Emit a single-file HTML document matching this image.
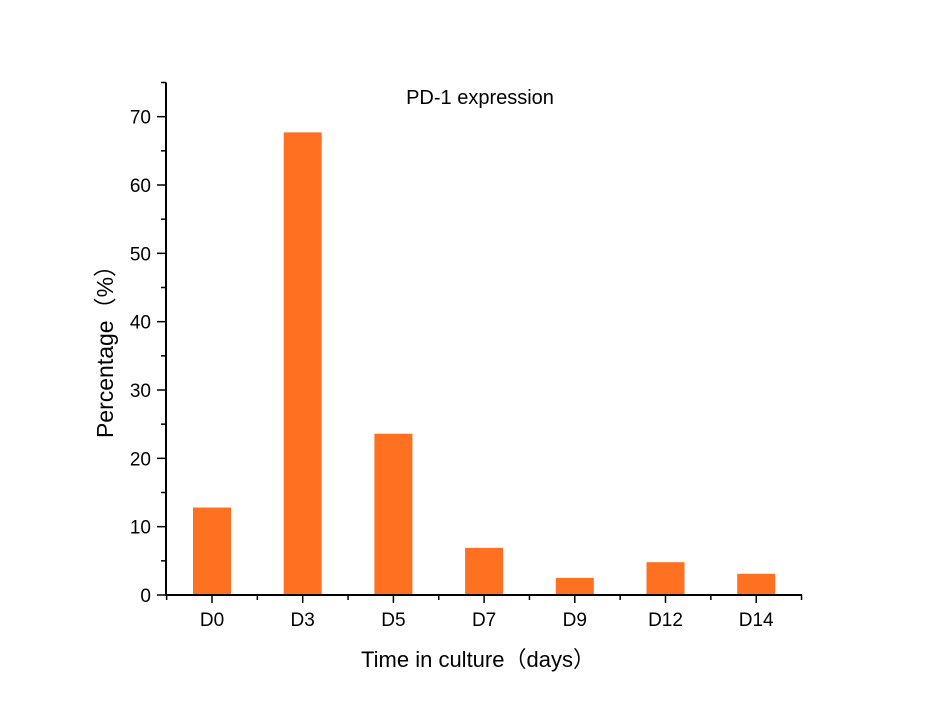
<!DOCTYPE html>
<html><head><meta charset="utf-8"><style>
body{margin:0;background:#fff;}
svg{display:block;font-family:"Liberation Sans","Noto Sans CJK SC",sans-serif;}
</style></head><body>
<svg id="chart" width="931" height="713" viewBox="0 0 931 713">
<text x="480" y="104" font-size="20" text-anchor="middle" fill="#000">PD-1 expression</text>
<text transform="translate(113,346) rotate(-90)" font-size="23" text-anchor="middle" fill="#000">Percentage（%）</text>
<text x="478" y="667" font-size="22" text-anchor="middle" fill="#000">Time in culture（days）</text>
<g id="bars"></g><g id="axes"></g>
</svg>
<script>
const categories=["D0","D3","D5","D7","D9","D12","D14"];
const values=[12.8,67.7,23.6,6.9,2.5,4.8,3.1];
const yTicks=[0,10,20,30,40,50,60,70];
const NS="http://www.w3.org/2000/svg";
const x0=166,x1=802,y0=595,yTop=82.5,yMax=75;
const band=90.7,firstC=212,barW=38;
function y(v){return y0-(v/yMax)*(y0-yTop);}
function xc(i){return firstC+i*band;}
function mk(t,a,p){const e=document.createElementNS(NS,t);for(const k in a)e.setAttribute(k,a[k]);p.appendChild(e);return e;}
const bars=document.getElementById('bars'),axes=document.getElementById('axes');
values.forEach((v,i)=>{
 const r=mk('rect',{x:xc(i)-barW/2,y:y(v),width:barW,height:y0-y(v),fill:'#FF7020'},bars);
 
 
});
const ya=mk('line',{x1:x0,y1:yTop,x2:x0,y2:y0+1,stroke:'#000','stroke-width':2},axes);


const xa=mk('line',{x1:x0-1,y1:y0,x2:x1,y2:y0,stroke:'#000','stroke-width':2},axes);


for(let v=5;v<=75;v+=10){mk('line',{x1:x0-5,y1:y(v),x2:x0,y2:y(v),stroke:'#000','stroke-width':1.5},axes);}
yTicks.forEach(v=>{
 mk('line',{x1:x0-9,y1:y(v),x2:x0,y2:y(v),stroke:'#000','stroke-width':1.5},axes);
 const t=mk('text',{x:x0-15,y:y(v)+7,'font-size':19,'text-anchor':'end',fill:'#000'},axes);
 t.textContent=v;
 
 
});
categories.forEach((c,i)=>{
 mk('line',{x1:xc(i),y1:y0,x2:xc(i),y2:y0+8,stroke:'#000','stroke-width':1.5},axes);
 mk('line',{x1:xc(i)-band/2,y1:y0,x2:xc(i)-band/2,y2:y0+5,stroke:'#000','stroke-width':1.5},axes);
 const t=mk('text',{x:xc(i),y:y0+31,'font-size':19,'text-anchor':'middle',fill:'#000'},axes);
 t.textContent=c;
 
 
});
mk('line',{x1:xc(6)+band/2,y1:y0,x2:xc(6)+band/2,y2:y0+5,stroke:'#000','stroke-width':1.5},axes);
</script>
</body></html>
